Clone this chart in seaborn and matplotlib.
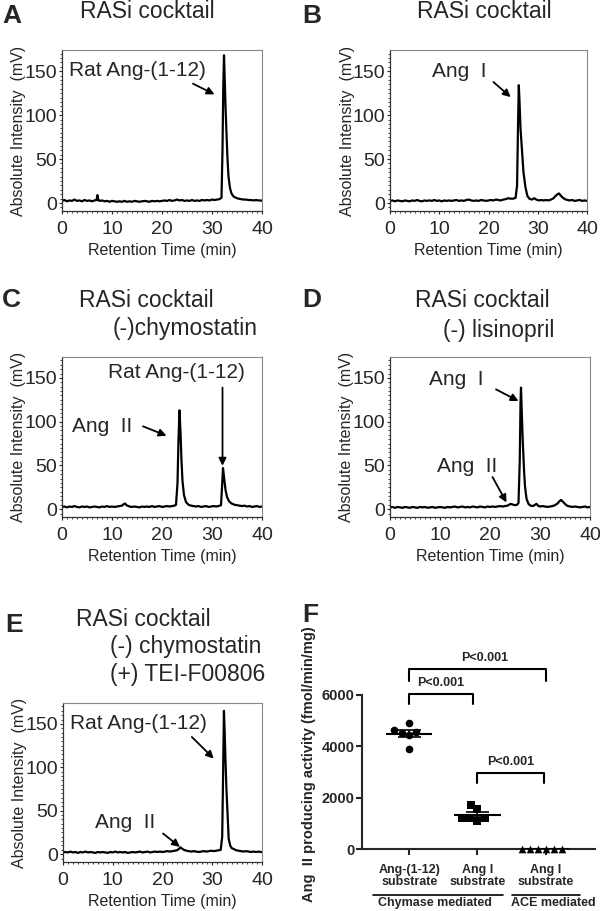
import numpy as np
import pandas as pd
import matplotlib
matplotlib.use("Agg")
import matplotlib.pyplot as plt
from matplotlib.ticker import MultipleLocator
from matplotlib.lines import Line2D
import seaborn as sns

sns.set_style("ticks")
plt.rcParams["font.family"] = ["Liberation Sans", "DejaVu Sans"]

# === chromatogram traces (min, mV) ===
tA = [0, 0.5, 1, 1.5, 2, 2.5, 3, 3.5, 4, 4.5, 5, 5.5, 6, 6.5,
      6.9, 7.1, 7.3, 7.6,
      8, 8.5, 9, 9.5, 10, 10.5, 11, 11.5,
      12, 12.5, 13, 13.5, 14, 14.5, 15, 15.5,
      16, 16.5, 17, 17.5, 18, 18.5, 19, 19.5,
      20, 20.5, 21, 21.5, 22, 22.5, 23, 23.5,
      24, 24.5, 25, 25.5, 26, 26.5, 27, 27.5,
      28, 28.5, 29, 29.5, 30, 30.5, 31, 31.5,
      31.9, 32.1, 32.25, 32.4, 32.55, 32.7, 32.9, 33.1, 33.3, 33.6, 33.9, 34.3,
      34.8, 35.3, 35.8, 36.3, 36.8, 37.3, 37.8, 38.3, 38.8, 39.3, 39.8, 40]
yA = [2.5, 3.5, 2.0, 3.0, 2.5, 4.0, 2.5, 3.0, 2.0, 3.5, 2.5, 3.0, 2.0, 3.0,
      3.5, 9.0, 3.0, 2.5,
      3.0, 2.0, 2.5, 1.5, 2.5, 2.0, 1.5, 2.0,
      1.5, 2.5, 1.5, 2.0, 1.5, 2.5, 2.0, 1.5,
      2.0, 2.5, 2.0, 1.5, 2.5, 2.0, 2.5, 2.0,
      2.5, 3.0, 2.5, 3.5, 2.5, 3.0, 4.0, 3.0,
      3.5, 2.5, 3.0, 2.5, 3.5, 2.5, 3.0, 2.5,
      3.5, 3.0, 3.5, 3.0, 4.0, 3.5, 4.0, 4.5,
      6, 60, 130, 168, 140, 110, 79, 50, 30, 17, 11, 7.5,
      6, 5, 4.5, 4, 4, 3.5, 3.5, 3, 3.5, 3, 3, 2.5]

tB = [0, 0.5, 1, 1.5, 2, 2.5, 3, 3.5,
      4, 4.5, 5, 5.5, 6, 6.5, 7, 7.5,
      8, 8.5, 9, 9.5, 10, 10.5, 11, 11.5,
      12, 12.5, 13, 13.5, 14, 14.5, 15, 15.5,
      16, 16.5, 17, 17.5, 18, 18.5, 19, 19.5,
      20, 20.5, 21, 21.5, 22, 22.5, 23, 23.5,
      24, 24.5,
      25, 25.5, 25.8, 26.0, 26.15, 26.3, 26.5, 26.8, 27.1, 27.5,
      27.9, 28.3, 28.8, 29.3, 29.7, 30.2, 30.7, 31.2, 31.7, 32.2,
      32.7, 33.2, 33.6, 34.0, 34.3, 34.6, 35.0, 35.5, 36, 36.5,
      37, 37.5, 38, 38.5, 39, 39.5, 40]
yB = [2.5, 3.0, 2.0, 3.0, 2.5, 2.0, 3.0, 2.5,
      2.0, 3.0, 2.5, 3.5, 2.5, 2.0, 3.0, 2.5,
      3.0, 2.5, 3.5, 2.5, 3.0, 2.0, 3.0, 2.5,
      3.0, 2.5, 3.0, 3.5, 2.5, 3.0, 2.5, 3.5,
      4.0, 3.0, 2.5, 3.0, 2.5, 3.5, 3.0, 2.5,
      3.0, 3.5, 3.0, 4.0, 3.5, 3.0, 4.0, 4.5,
      5.5, 5.0,
      5, 6, 20, 90, 134, 115, 85, 60, 35, 18,
      8, 5, 4, 5.5, 4, 3, 3.5, 3, 3.5, 3,
      4, 5.5, 8, 10, 11, 9, 6.5, 4.5, 3.5, 3,
      3.5, 2.5, 3, 3.5, 2.5, 3, 2.5]

tC = [0, 0.5, 1, 1.5, 2, 2.5, 3, 3.5, 4, 4.5, 5, 5.5, 6, 6.5, 7, 7.5,
      8, 8.5, 9, 9.5, 10, 10.5, 11, 11.5, 12,
      12.3, 12.6, 12.9, 13.5,
      14, 14.5, 15, 15.5, 16, 16.5, 17, 17.5, 18, 18.5, 19, 19.5,
      20, 20.5, 21, 21.5, 22, 22.5,
      22.8, 23.1, 23.3, 23.5, 23.7, 23.9, 24.1, 24.4, 24.8, 25.3,
      25.8, 26.3, 26.8, 27.3, 27.8, 28.3, 28.8, 29.3, 29.8, 30.3, 30.8, 31.3,
      31.8, 32.0, 32.2, 32.4, 32.7, 33.0, 33.4, 33.9, 34.5, 35.0,
      35.5, 36, 36.5, 37, 37.5, 38, 38.5, 39, 39.5, 40]
yC = [2.5, 3.0, 2.0, 3.0, 2.5, 3.5, 2.5, 2.0, 3.0, 2.5, 3.0, 2.0, 2.5, 3.0, 2.5, 2.0,
      3.0, 2.5, 3.5, 2.5, 3.0, 2.5, 3.0, 3.5, 4.0,
      5.5, 6.5, 4.5, 3.0,
      2.5, 3.0, 2.5, 2.0, 3.0, 2.5, 3.0, 2.5, 3.5, 2.5, 3.0, 3.5,
      2.5, 3.0, 3.5, 3.0, 3.5, 4.0,
      5, 30, 80, 113, 88, 55, 32, 16, 8, 5,
      4, 3.5, 3, 3.5, 2.5, 3, 3.5, 2.5, 3, 3.5, 3, 3.5,
      4.5, 25, 47, 37, 22, 14, 9, 6.5, 5, 4.5,
      4, 3.5, 4, 3, 3.5, 2.5, 3, 3.5, 2.5, 3]

tD = [0, 0.5, 1, 1.5, 2, 2.5, 3, 3.5,
      4, 4.5, 5, 5.5, 6, 6.5, 7, 7.5,
      8, 8.5, 9, 9.5, 10, 10.5, 11, 11.5,
      12, 12.5, 13, 13.5, 14, 14.5, 15, 15.5,
      16, 16.5, 17, 17.5, 18, 18.5, 19, 19.5,
      20, 20.5, 21, 21.5, 22, 22.5, 23, 23.5,
      23.8, 24.1, 24.4, 24.7, 25.0, 25.4, 25.7, 25.95, 26.1, 26.2,
      26.35, 26.55, 26.8, 27.0, 27.3, 27.7, 28.1, 28.6, 29.0, 29.3,
      29.6, 30.0, 30.5, 31, 31.5, 32, 32.5, 33.0, 33.5, 33.9,
      34.2, 34.5, 34.9, 35.4, 36, 36.5, 37, 37.5, 38, 38.5,
      39, 39.5, 40]
yD = [2.0, 2.5, 1.5, 2.5, 2.0, 1.5, 2.5, 2.0,
      1.5, 2.5, 2.0, 1.5, 2.5, 2.0, 2.5, 1.5,
      2.0, 2.5, 1.5, 2.0, 2.5, 2.0, 1.5, 2.5,
      2.0, 2.5, 3.0, 2.0, 2.5, 3.0, 2.0, 2.5,
      2.0, 3.0, 2.5, 2.0, 3.0, 2.5, 2.0, 3.0,
      2.5, 3.0, 2.5, 3.0, 3.5, 3.0, 3.5, 4.0,
      5, 6, 5.5, 5, 4.5, 5, 7, 55, 120, 139,
      112, 78, 45, 26, 12, 6, 4, 3.5, 5, 6,
      4, 3, 3.5, 3, 2.5, 3, 3.5, 4.5, 6.5, 9,
      10.5, 9, 6.5, 4, 3, 2.5, 3, 2.5, 2, 2.5,
      3, 2, 2.5]

tE = [0, 0.5, 1, 1.5, 2, 2.5, 3, 3.5,
      4, 4.5, 5, 5.5, 6, 6.5, 7, 7.5,
      8, 8.5, 9, 9.5, 10, 10.5, 11, 11.5,
      12, 12.5, 13, 13.5, 14, 14.5, 15, 15.5,
      16, 16.5, 17, 17.5, 18, 18.5, 19, 19.5,
      20, 20.5, 21, 21.5, 22, 22.5,
      22.9, 23.3, 23.6, 23.9, 24.3, 24.8,
      25.3, 25.8, 26.3, 26.8, 27.3, 27.8, 28.3, 28.8, 29.3, 29.8, 30.3, 30.8, 31.3, 31.7,
      32.0, 32.2, 32.35, 32.5, 32.65, 32.85, 33.05, 33.3, 33.6, 33.9, 34.3, 34.8, 35.3,
      35.8, 36.3, 36.8, 37.3, 37.8, 38.3, 38.8, 39.3, 39.8, 40]
yE = [2.0, 2.5, 2.0, 3.0, 2.0, 2.5, 1.5, 2.5,
      2.0, 3.0, 2.0, 2.5, 2.0, 1.5, 2.5, 2.0,
      2.5, 2.0, 1.5, 2.5, 2.0, 3.0, 2.0, 2.5,
      2.0, 2.5, 1.5, 2.0, 2.5, 2.0, 2.5, 3.0,
      2.0, 2.5, 3.0, 2.0, 2.5, 3.0, 2.5, 3.0,
      2.5, 3.0, 3.5, 3.0, 3.5, 4.0,
      4.5, 6, 8, 6.5, 5, 4,
      3.5, 3.0, 3.5, 3, 2.5, 3, 3.5, 3, 3.5, 4, 3.5, 4, 4.5, 5,
      20, 100, 165, 140, 110, 75, 50, 18, 10, 7, 6, 4.5, 4,
      3.5, 3, 3.5, 3, 2.5, 3, 2.5, 3, 2.5, 2.5]

# === panel F: Ang II producing activity (fmol/min/mg) ===
group_keys = ["chymase_ang112", "chymase_angI", "ace_angI"]
group_labels = ["Ang-(1-12)\nsubstrate", "Ang I\nsubstrate", "Ang I\nsubstrate"]
ang112_vals = [4930, 4650, 4550, 4520, 4430, 3910]
angI_chym_vals = [1720, 1560, 1230, 1200, 1200, 1110]
angI_ace_vals = [0, 0, 0, 0, 0, 0]

W, H = 600, 911
fig = plt.figure(figsize=(6, 9.11), dpi=100)


def px_axes(left, top, right, bottom):
    return fig.add_axes([left / W, 1 - bottom / H, (right - left) / W, (bottom - top) / H])


def ftext(x, y, s, **kw):
    fig.text(x / W, 1 - y / H, s, **kw)


def chromatogram(ax, t, y, notes, arrows):
    sns.lineplot(x=t, y=y, ax=ax, color="black", lw=1.6, estimator=None, sort=False)
    ax.set_xlim(0, 40)
    ax.set_ylim(-9, 174)
    ax.set_xticks([0, 10, 20, 30, 40])
    ax.set_yticks([0, 50, 100, 150])
    ax.xaxis.set_minor_locator(MultipleLocator(1))
    ax.yaxis.set_minor_locator(MultipleLocator(5))
    ax.tick_params(which="major", labelsize=14, length=2.5, width=0.8, pad=1)
    ax.tick_params(axis="x", which="major", pad=5)
    ax.tick_params(which="minor", length=1.5, width=0.6)
    ax.set_xlabel("Retention Time (min)", fontsize=11.5)
    ax.set_ylabel("Absolute Intensity  (mV)", fontsize=11.5)
    ax.xaxis.set_label_coords(0.5, -0.2)
    ax.yaxis.set_label_coords(-0.18, 0.5)
    for side in ["top", "right"]:
        ax.spines[side].set_color("#888888")
        ax.spines[side].set_linewidth(0.8)
    for side in ["left", "bottom"]:
        ax.spines[side].set_color("#333333")
        ax.spines[side].set_linewidth(0.9)
    for s, x, yy in notes:
        ax.text(x, yy, s, fontsize=15, ha="center", va="center")
    for tail, head in arrows:
        ax.annotate("", xy=head, xytext=tail,
                    arrowprops=dict(arrowstyle="-|>", color="black", lw=1.3,
                                    mutation_scale=11, shrinkA=0, shrinkB=0))


# === chromatogram panels ===
axA = px_axes(62, 50, 262, 211)
chromatogram(axA, tA, yA, [("Rat Ang-(1-12)", 15, 151)], [((26.2, 135.7), (30.5, 123.6))])

axB = px_axes(390, 50, 587, 211)
chromatogram(axB, tB, yB, [("Ang  I", 14, 149)], [((21, 137.6), (24.5, 120.5))])

axC = px_axes(62, 357, 262, 517)
chromatogram(axC, tC, yC,
             [("Ang  II", 8, 95), ("Rat Ang-(1-12)", 22.9, 156)],
             [((16.2, 94.7), (20.9, 84)), ((32.1, 139), (32.1, 49.6))])

axD = px_axes(390, 357, 590, 517)
chromatogram(axD, tD, yD,
             [("Ang  I", 13.2, 148.6), ("Ang  II", 15.4, 49)],
             [((21.2, 137), (25.7, 123.6)), ((20.5, 36.7), (23.3, 7.7))])

axE = px_axes(63, 703, 262, 862)
chromatogram(axE, tE, yE,
             [("Rat Ang-(1-12)", 15.2, 150), ("Ang  II", 12.5, 36)],
             [((25.9, 134.9), (30.3, 110)), ((20.1, 23.8), (23.5, 8.4))])

# === panel F: scatter with mean +/- SEM ===
df = pd.DataFrame({
    "group": [group_keys[0]] * 6 + [group_keys[1]] * 6 + [group_keys[2]] * 6,
    "activity": ang112_vals + angI_chym_vals + angI_ace_vals,
})
y_top_F = 7700
axF = px_axes(362, 849.3 - y_top_F * 0.02572, 595, 849.3)
for key, mk in zip(group_keys, ["o", "s", "^"]):
    sns.swarmplot(data=df[df["group"] == key], x="group", y="activity", order=group_keys,
                  marker=mk, color="black", size=5.5, ax=axF, clip_on=False, zorder=3)

for i, key in enumerate(group_keys):
    v = df.loc[df["group"] == key, "activity"]
    m = v.mean()
    se = v.std(ddof=1) / np.sqrt(len(v))
    axF.hlines(m, i - 0.34, i + 0.34, color="black", lw=1.5, zorder=4)
    axF.hlines([m - se, m + se], i - 0.17, i + 0.17, color="black", lw=1.2, zorder=4)
    axF.vlines(i, m - se, m + se, color="black", lw=1.2, zorder=4)


def bracket(x0, x1, y_top, y_leg, label_x, label_y):
    axF.plot([x0, x0, x1, x1], [y_leg, y_top, y_top, y_leg], color="black", lw=1.5, clip_on=False)
    axF.text(label_x, label_y, "P<0.001", ha="center", va="center", fontsize=9, fontweight="bold")


bracket(0, 2, 7000, 6555, 1.1, 7425)
bracket(0, 0.93, 6040, 5650, 0.46, 6470)
bracket(1, 1.97, 2980, 2590, 1.49, 3400)

axF.set_xlim(-0.69, 2.72)
axF.set_ylim(0, y_top_F)
axF.set_yticks([0, 2000, 4000, 6000])
axF.set_xticks([0, 1, 2])
axF.set_xticklabels(group_labels, fontsize=9, fontweight="bold", linespacing=1.0)
for lab in axF.get_yticklabels():
    lab.set_fontweight("bold")
axF.tick_params(axis="y", labelsize=10.5, length=4.5, width=1.5, pad=1)
axF.tick_params(axis="x", length=4, width=1.5, pad=6.5)
axF.set_xlabel("")
axF.set_ylabel("")
sns.despine(ax=axF)
axF.spines["left"].set_bounds(0, 6000)
axF.spines["left"].set_linewidth(1.5)
axF.spines["bottom"].set_linewidth(1.5)

ftext(309, 764, "Ang  II producing activity (fmol/min/mg)", rotation=90, ha="center", va="center",
      fontsize=10.5, fontweight="bold")
fig.add_artist(Line2D([373 / W, 503 / W], [1 - 895 / H] * 2, color="black", lw=1.2))
fig.add_artist(Line2D([512 / W, 580 / W], [1 - 895 / H] * 2, color="black", lw=1.2))
ftext(435, 903, "Chymase mediated", ha="center", va="center", fontsize=9, fontweight="bold")
ftext(553, 903, "ACE mediated", ha="center", va="center", fontsize=9, fontweight="bold")

# === titles and panel letters ===
title_kw = dict(fontsize=16.5, va="center")
ftext(147, 11, "RASi cocktail", ha="center", **title_kw)
ftext(484, 11, "RASi cocktail", ha="center", **title_kw)
ftext(79, 300, "RASi cocktail", ha="left", **title_kw)
ftext(113, 328, "(-)chymostatin", ha="left", **title_kw)
ftext(415, 300, "RASi cocktail", ha="left", **title_kw)
ftext(443, 330, "(-) lisinopril", ha="left", **title_kw)
ftext(76, 620, "RASi cocktail", ha="left", **title_kw)
ftext(110, 647, "(-) chymostatin", ha="left", **title_kw)
ftext(110, 675, "(+) TEI-F00806", ha="left", **title_kw)

letter_kw = dict(fontsize=19, fontweight="bold", va="center", ha="left")
for s, x, y in [("A", 2, 16), ("B", 302, 16), ("C", 2, 300), ("D", 302, 300), ("E", 5, 625), ("F", 302, 615)]:
    ftext(x, y, s, **letter_kw)

fig.savefig("out.png", dpi=100)
